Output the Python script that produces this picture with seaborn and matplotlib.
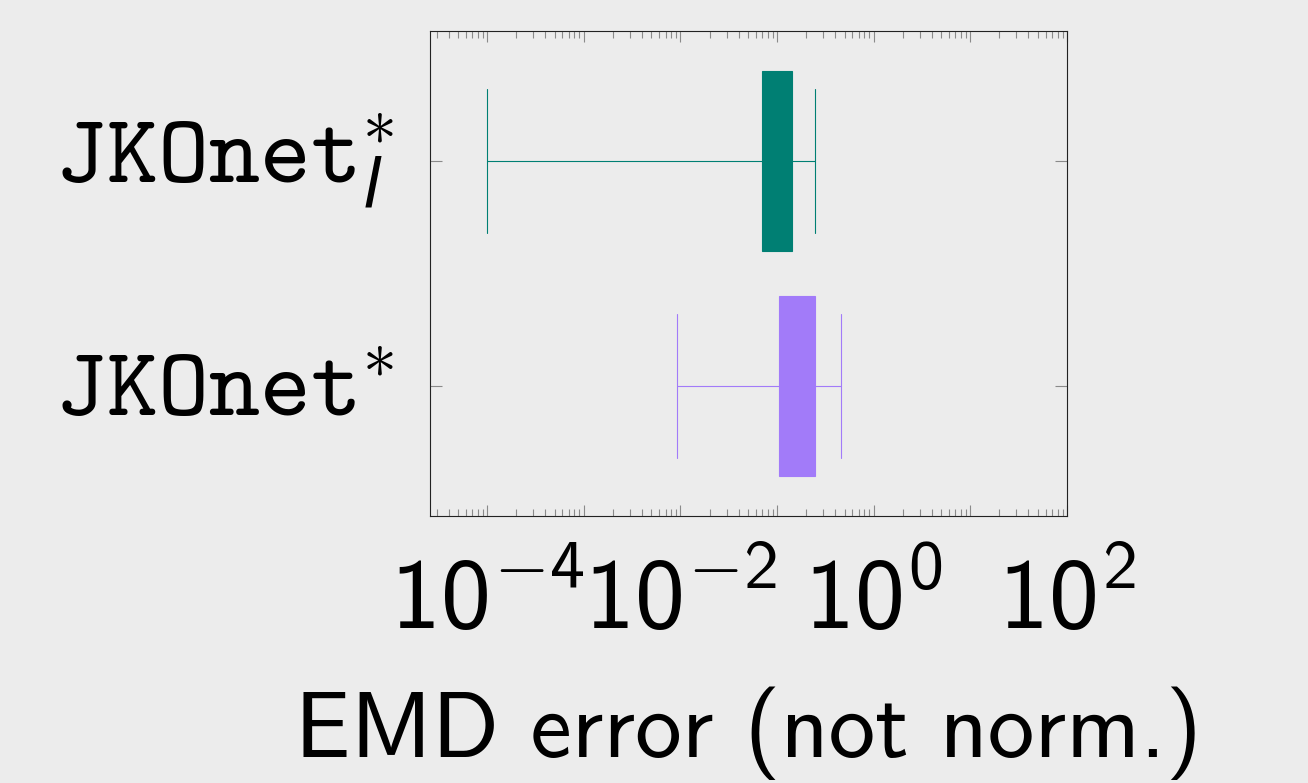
import numpy as np
import pandas as pd
import matplotlib
matplotlib.use('Agg')
import matplotlib.pyplot as plt
import matplotlib.ticker as mticker
import seaborn as sns

# categories (top to bottom) and their colours
methods = [r'JKOnet$^{\ast}_{\mathit{l}}$', r'JKOnet$^{\ast}$']
colors = ['#007F73', '#A27BF9']

# five-number summaries: min, q1, median, q3, max
jkonet_l_vals = [1.0e-4, 0.0703, 0.10, 0.1426, 0.244]
jkonet_vals = [0.00927, 0.1054, 0.16, 0.248, 0.454]

tick_exps = [-4, -2, 0, 2]
tick_labels = [r'$\mathrm{10^{-4}}$', r'$\mathrm{10^{-2}}$', r'$\mathrm{10^{0}}$', r'$\mathrm{10^{2}}$']
x_label = 'EMD error (not norm.)'

df = pd.DataFrame({
    'method': [methods[0]] * len(jkonet_l_vals) + [methods[1]] * len(jkonet_vals),
    'emd': jkonet_l_vals + jkonet_vals,
})

bg = '#ECECEC'
sns.set_style('white')
plt.rcParams['mathtext.fontset'] = 'custom'
plt.rcParams['mathtext.rm'] = 'cmss10'
plt.rcParams['mathtext.sf'] = 'cmss10'
plt.rcParams['mathtext.tt'] = 'cmtt10'
plt.rcParams['mathtext.it'] = 'DejaVu Sans:italic'
plt.rcParams['mathtext.fallback'] = 'cm'
plt.rcParams['axes.facecolor'] = bg
plt.rcParams['figure.facecolor'] = bg

fig = plt.figure(figsize=(13.08, 7.83), dpi=100)
ax = fig.add_axes([0.3287, 0.341, 0.4870, 0.6194])

for m, c in zip(methods, colors):
    n0 = len(ax.lines)
    sns.boxplot(data=df[df['method'] == m], x='emd', y='method', order=methods,
                color=c, linecolor=c, saturation=1, linewidth=0.8, width=0.8,
                whis=(0, 100), log_scale=True, capwidths=0.64, showfliers=False,
                whiskerprops=dict(color=c), capprops=dict(color=c),
                medianprops=dict(color=c), boxprops=dict(edgecolor=c), ax=ax)
    for ln in ax.lines[n0:]:
        ln.set_color(c)

ax.set_xlim(10 ** -4.593, 1e2)
ax.set_ylim(1.58, -0.58)

lab = dict(zip(tick_exps, tick_labels))
ax.xaxis.set_major_locator(mticker.LogLocator(base=10, numticks=20))
ax.xaxis.set_minor_locator(mticker.LogLocator(base=10, subs=np.arange(2, 10), numticks=20))
ax.xaxis.set_major_formatter(mticker.FuncFormatter(lambda v, p: lab.get(int(round(np.log10(v))), '')))
ax.xaxis.set_minor_formatter(mticker.NullFormatter())

ax.tick_params(axis='x', which='both', direction='in', top=True, bottom=True,
               color='#8a8a8a', width=0.8, labelsize=72, labelcolor='black', pad=27)
ax.tick_params(axis='x', which='major', length=8)
ax.tick_params(axis='x', which='minor', length=5)
ax.tick_params(axis='y', which='major', direction='in', left=True, right=True,
               color='#8a8a8a', width=0.8, length=8.6, labelsize=70, labelcolor='black', pad=26)
ylabs = ax.get_yticklabels()
for t in ylabs:
    t.set_family('cmtt10')
ylabs[0].set_va('center')
ylabs[1].set_va('center_baseline')

for s in ax.spines.values():
    s.set_visible(True)
    s.set_color('#222222')
    s.set_linewidth(0.8)

ax.set_ylabel('')
ax.set_xlabel(x_label, fontsize=67, family='cmss10', color='black', labelpad=26)

fig.savefig('out.png', dpi=100, facecolor=bg)
